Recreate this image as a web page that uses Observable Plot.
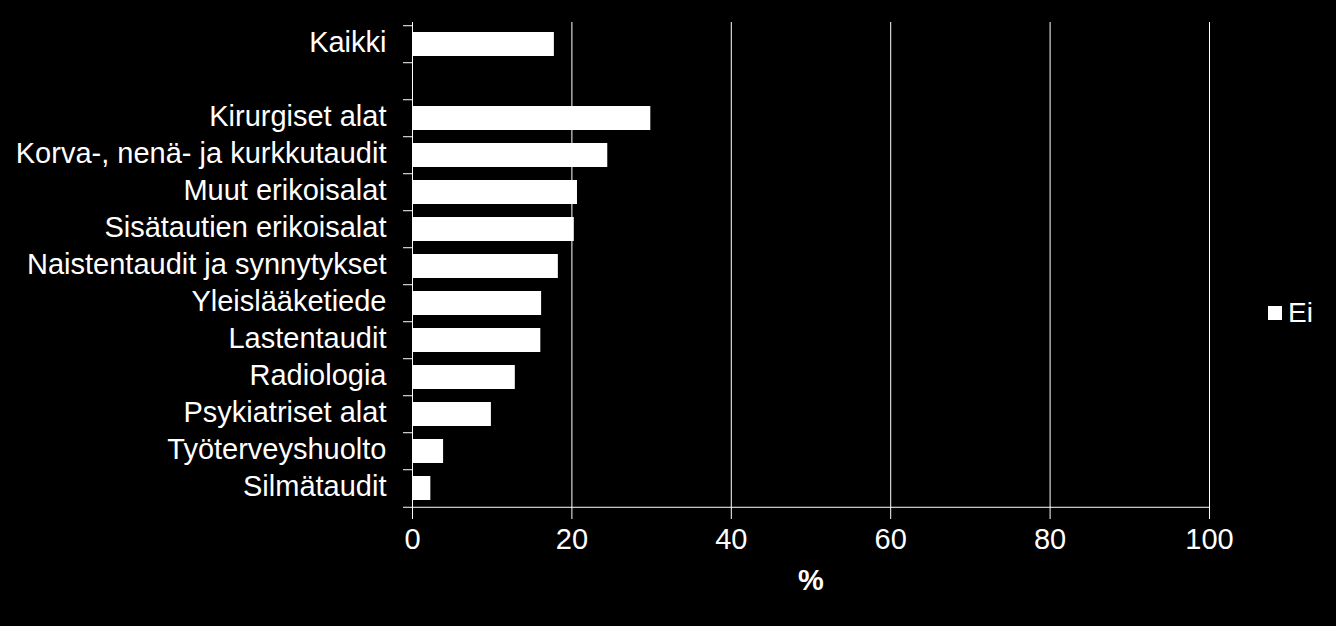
<!DOCTYPE html>
<html>
<head>
<meta charset="utf-8">
<script src="https://cdn.jsdelivr.net/npm/d3@7"></script>
<script src="https://cdn.jsdelivr.net/npm/@observablehq/plot@0.6"></script>
<style>
  html, body { margin: 0; padding: 0; background: #000; }
  #wrap { position: relative; width: 1336px; height: 626px; background: #000; overflow: hidden; }
  #legend { position: absolute; left: 1268px; top: 296px; height: 34px; display: flex; align-items: center;
            font-family: "Liberation Sans", Arial, sans-serif; font-size: 28px; color: #fff; line-height: 34px; }
  #legend .sw { width: 14px; height: 14px; background: #fff; margin-right: 6px; }
</style>
</head>
<body>
<div id="wrap"><div id="legend"><div class="sw"></div><span>Ei</span></div></div>
<script>
const categories = [
  "Kaikki",
  "",
  "Kirurgiset alat",
  "Korva-, nenä- ja kurkkutaudit",
  "Muut erikoisalat",
  "Sisätautien erikoisalat",
  "Naistentaudit ja synnytykset",
  "Yleislääketiede",
  "Lastentaudit",
  "Radiologia",
  "Psykiatriset alat",
  "Työterveyshuolto",
  "Silmätaudit"
];
const values = [17.8, null, 29.9, 24.5, 20.7, 20.3, 18.3, 16.2, 16.1, 12.9, 9.9, 3.9, 2.3];
const xTicks = [0, 20, 40, 60, 80, 100];
const seriesName = "Ei";
const axisTitle = "%";

const data = categories.map((c, i) => ({category: c, value: values[i]})).filter(d => d.value != null);

const marginTop = 22, marginBottom = 116;
const height = 626;
const step = (height - marginTop - marginBottom) / categories.length;

const font = "Liberation Sans, Arial, sans-serif";

const chart = Plot.plot({
  width: 1336,
  height,
  marginLeft: 412,
  marginRight: 127,
  marginTop,
  marginBottom,
  style: {background: "#000", color: "#fff", fontFamily: font, fontSize: "29px"},
  x: {domain: [0, 100], ticks: xTicks},
  y: {domain: categories, paddingInner: 0.34, paddingOuter: 0.17},
  marks: [
    Plot.gridX(xTicks.filter(t => t > 0), {stroke: "#fff", strokeOpacity: 1, strokeWidth: 1}),
    Plot.barX(data, {x: "value", y: "category", fill: "#fff"}),
    Plot.ruleX([0], {stroke: "#fff", strokeWidth: 1}),
    Plot.ruleY([categories[categories.length - 1]], {x1: 0, x2: 100, dy: step / 2, stroke: "#fff", strokeWidth: 1}),
    Plot.axisX({ticks: xTicks, tickSize: 9, tickPadding: 9, stroke: "#fff", fill: "#fff", fontSize: 29, label: null}),
    Plot.axisY({tickSize: 0, tickPadding: 26, dy: -1.5, fill: "#fff", fontSize: 29, label: null, tickFormat: d => d}),
    Plot.axisY({tickSize: 9, text: null, dy: -step / 2, stroke: "#fff", label: null}),
    Plot.axisY({ticks: [categories[categories.length - 1]], tickSize: 9, text: null, dy: step / 2, stroke: "#fff", label: null}),
    Plot.text([axisTitle], {frameAnchor: "bottom", dy: 79, fill: "#fff", fontSize: 29, fontWeight: "bold", fontFamily: font})
  ]
});
document.getElementById("wrap").prepend(chart);
chart.style.position = "absolute";
chart.style.left = "0";
chart.style.top = "0";
document.querySelector("#legend span").textContent = seriesName;
</script>
</body>
</html>
